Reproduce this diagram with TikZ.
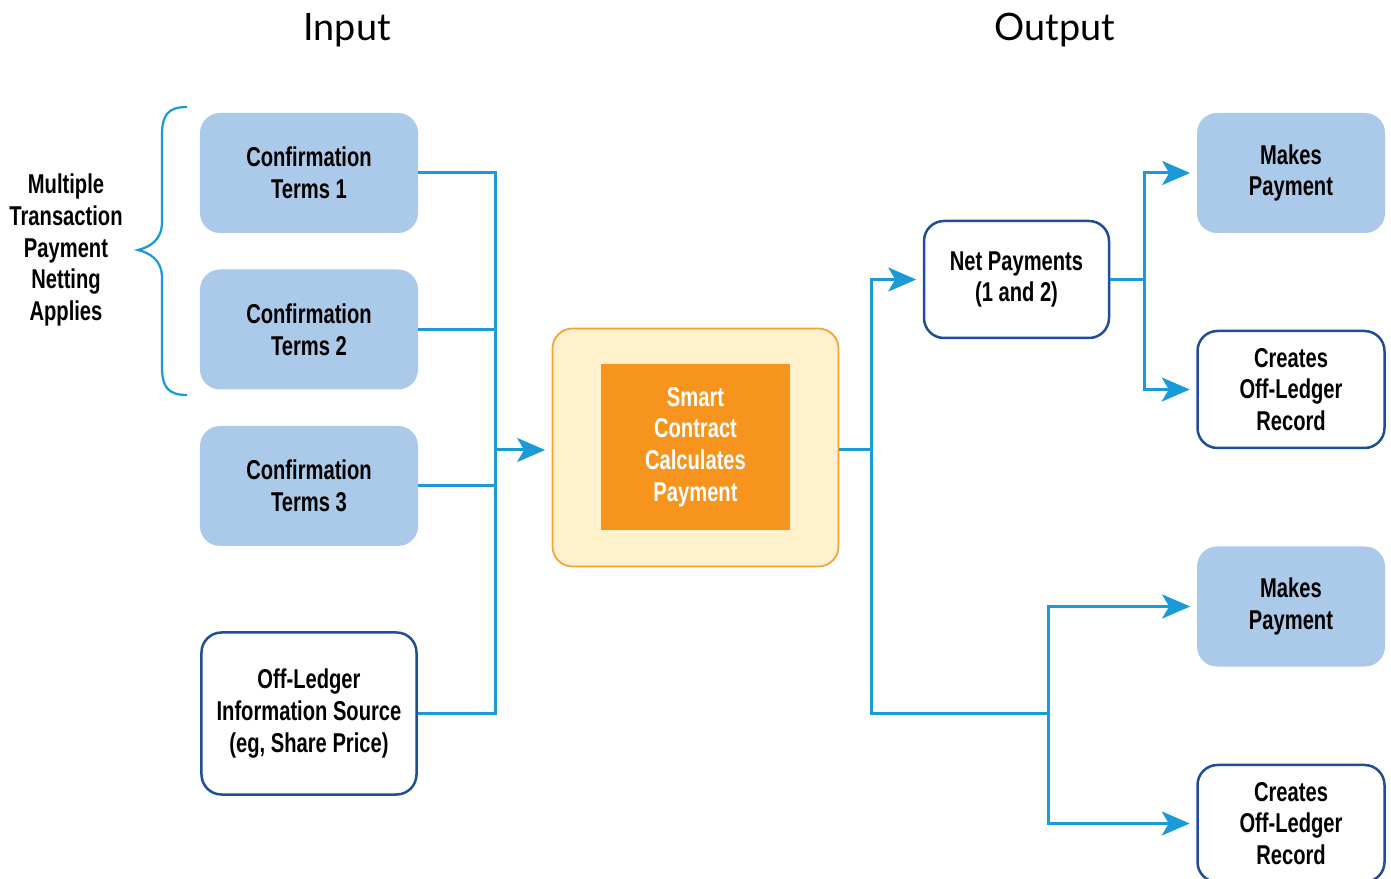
\documentclass[tikz,border=0pt]{standalone}
\usepackage{fontspec}
\setmainfont{Liberation Sans}[FakeStretch=0.74]
\newfontfamily\headfont{Lato}
\usetikzlibrary{arrows.meta, positioning, calc}

\definecolor{termblue}{HTML}{ABC9E8}
\definecolor{linkblue}{HTML}{1A9AD7}
\definecolor{navy}{HTML}{1F4E96}
\definecolor{smartorange}{HTML}{F7941E}
\definecolor{cream}{HTML}{FEF1CC}
\definecolor{creamedge}{HTML}{F6A239}

\begin{document}
\begin{tikzpicture}[
    x=0.2mm, y=-0.2mm,
    every node/.style={font=\fontsize{15.5}{18}\selectfont\bfseries, align=center},
    head/.style={font=\headfont\fontsize{21.5}{24}\selectfont},
    term/.style={rectangle, rounded corners=4mm, fill=termblue, minimum width=43.6mm, minimum height=24mm},
    outbox/.style={rectangle, rounded corners=4mm, fill=termblue, minimum width=37.6mm, minimum height=24mm},
    plain/.style={rectangle, rounded corners=4mm, draw=navy, line width=0.5mm, fill=white, minimum width=37mm, minimum height=23.4mm},
    shell/.style={rectangle, rounded corners=4mm, draw=creamedge, line width=0.35mm, fill=cream, minimum width=57.2mm, minimum height=47.6mm},
    core/.style={rectangle, fill=smartorange, text=white, minimum width=37.8mm, minimum height=33.2mm},
    link/.style={draw=linkblue, line width=0.6mm},
    flow/.style={link, -{Stealth[length=5.6mm, width=4.8mm, inset=1.4mm]}, shorten >=1.3mm}
]
\useasboundingbox (0,0) rectangle (1391,879);

\node[head] (inhead) at (347,30) {Input};
\node[head] (outhead) at (1055,30) {Output};

\node (netting) at (66,250) {Multiple\\Transaction\\Payment\\Netting\\Applies};
\draw[draw=linkblue, line width=0.45mm] (187,107) .. controls (168,107) and (162,115) .. (162,135)
    -- (162,222) .. controls (162,240) and (150,247) .. (138,250)
    .. controls (150,253) and (162,260) .. (162,278)
    -- (162,367) .. controls (162,387) and (168,395) .. (187,395);

\node[term] (conf1) at (309,173) {Confirmation\\Terms 1};
\node[term] (conf2) at (309,329.5) {Confirmation\\Terms 2};
\node[term] (conf3) at (309,486) {Confirmation\\Terms 3};
\node[plain, minimum width=43mm, minimum height=32.4mm] (offsrc) at (309,713.5) {Off-Ledger\\Information Source\\(eg, Share Price)};

\node[shell] (smart) at (695.5,447.5) {};
\node[core] (calc) at (695.5,447) {Smart\\Contract\\Calculates\\Payment};

\node[plain] (net) at (1016.5,279.5) {Net Payments\\(1 and 2)};
\node[outbox] (pay1) at (1291,173) {Makes\\Payment};
\node[plain, minimum width=37.4mm] (rec1) at (1291,389.5) {Creates\\Off-Ledger\\Record};
\node[outbox] (pay2) at (1291,606.5) {Makes\\Payment};
\node[plain, minimum width=37.4mm] (rec2) at (1291,823.5) {Creates\\Off-Ledger\\Record};

\coordinate (inbus) at (495,450);
\coordinate (outbus) at (871,450);
\coordinate (netfork) at (1144,279.5);
\coordinate (lowfork) at (1048,713.5);

\draw[link] (conf1.east) -| (inbus);
\draw[link] (conf2.east) -| (inbus);
\draw[link] (conf3.east) -| (inbus);
\draw[link] (offsrc.east) -| (inbus);
\draw[flow] (inbus) -- (inbus -| smart.west);

\draw[link] (outbus -| smart.east) -- (outbus);
\draw[flow] (outbus) |- (net.west);
\draw[link] (outbus) |- (lowfork);

\draw[link] (net.east) -- (netfork);
\draw[flow] (netfork) |- (pay1.west);
\draw[flow] (netfork) |- (rec1.west);

\draw[flow] (lowfork) |- (pay2.west);
\draw[flow] (lowfork) |- (rec2.west);
\end{tikzpicture}
\end{document}
